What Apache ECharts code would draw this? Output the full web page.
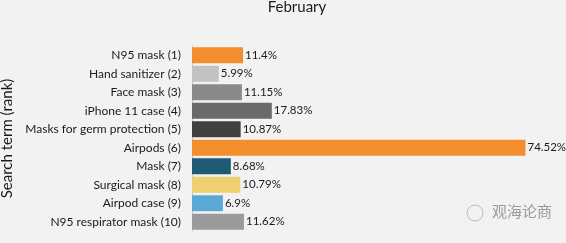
<!DOCTYPE html>
<html><head><meta charset="utf-8">
<script src="https://cdn.jsdelivr.net/npm/echarts@6/dist/echarts.min.js"></script>
<style>html,body{margin:0;padding:0;background:#f2f2f2}#c{width:566px;height:243px}</style>
</head><body><div id="c"></div>
<script>
const categories = ["N95 mask (1)","Hand sanitizer (2)","Face mask (3)","iPhone 11 case (4)","Masks for germ protection (5)","Airpods (6)","Mask (7)","Surgical mask (8)","Airpod case (9)","N95 respirator mask (10)"];
const values = [11.4, 5.99, 11.15, 17.83, 10.87, 74.52, 8.68, 10.79, 6.9, 11.62];
const colors = ["#f28e2b","#c2c2c2","#8a8a8a","#6a6a6a","#404040","#f28e2b","#1f5a75","#efcf72","#59a9d4","#9b9b9b"];
const chart = echarts.init(document.getElementById('c'));
chart.setOption({
  backgroundColor: '#f2f2f2',
  textStyle: {fontFamily: 'Lato'},
  title: {text: 'February', left: 292, textAlign: 'center', top: -5,
    textStyle: {fontFamily: 'Lato', fontSize: 15, fontWeight: 'normal', color: '#1a1a1a'}},
  grid: {left: 192, right: 16, top: 46, bottom: 12, outerBoundsMode: 'none'},
  xAxis: {type: 'value', min: 0, max: 80, show: false},
  yAxis: {type: 'category', inverse: true, data: categories,
    name: 'Search term (rank)', nameLocation: 'middle', nameGap: 172,
    nameTextStyle: {fontFamily: 'Lato', fontSize: 15, color: '#1a1a1a'},
    axisLine: {show: true, lineStyle: {color: '#c8c8c8', width: 1}},
    axisTick: {show: false},
    axisLabel: {margin: 11, fontFamily: 'Lato', fontSize: 12, color: '#1a1a1a'}},
  series: [{type: 'bar', barCategoryGap: '14%',
    data: values.map((v, i) => ({value: v, itemStyle: {color: colors[i]}})),
    label: {show: true, position: 'right', distance: 2, fontFamily: 'Lato', fontSize: 11.5, color: '#1a1a1a',
      formatter: p => p.value + '%'}}],
  graphic: [{type: 'text', left: 492, top: 204,
    style: {text: '观海论商', font: '15px "Noto Sans CJK SC"', fill: '#9a9a9a'}},
    {type: 'circle', shape: {cx: 475, cy: 213, r: 8}, style: {fill: 'none', stroke: '#bbb', lineWidth: 1}}]
});
</script></body></html>
